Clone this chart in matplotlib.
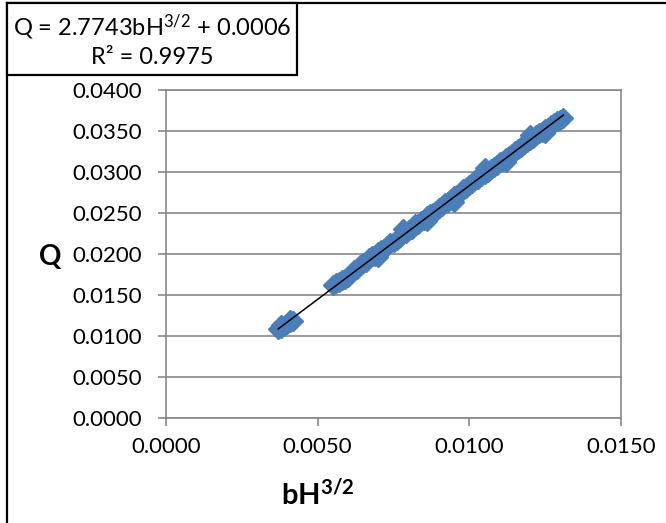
import matplotlib
matplotlib.use('Agg')
import matplotlib.pyplot as plt
from matplotlib.lines import Line2D
from matplotlib.patches import Rectangle

plt.rcParams['font.family'] = ['Lato', 'DejaVu Sans']
plt.rcParams['mathtext.fontset'] = 'custom'
plt.rcParams['mathtext.rm'] = 'Lato'
plt.rcParams['mathtext.it'] = 'Lato:italic'
plt.rcParams['mathtext.bf'] = 'Lato:bold'

# measured discharge vs b*H^(3/2)
bh32 = [
    0.0037, 0.0038, 0.0038, 0.0039, 0.0040, 0.0041, 0.0042, 0.0041,
    0.0055, 0.0056, 0.0057, 0.0058, 0.0059, 0.0060, 0.0062, 0.0063,
    0.0064, 0.0065, 0.0066, 0.0067, 0.0068, 0.0069, 0.0070, 0.0071,
    0.0072, 0.0073, 0.0074, 0.0075, 0.0076, 0.0077, 0.0078, 0.0079,
    0.0080, 0.0081, 0.0082, 0.0083, 0.0084, 0.0085, 0.0086, 0.0087,
    0.0088, 0.0089, 0.0090, 0.0091, 0.0092, 0.0093, 0.0094, 0.0095,
    0.0096, 0.0097, 0.0098, 0.0099, 0.0100, 0.0101, 0.0102, 0.0103,
    0.0104, 0.0105, 0.0106, 0.0107, 0.0108, 0.0109, 0.0110, 0.0111,
    0.0112, 0.0113, 0.0114, 0.0115, 0.0116, 0.0117, 0.0118, 0.0119,
    0.0120, 0.0121, 0.0122, 0.0123, 0.0124, 0.0125, 0.0126, 0.0127,
    0.0128, 0.0129, 0.0130, 0.0131,
    0.0086, 0.0095, 0.0105, 0.0112, 0.0120, 0.0125, 0.0070, 0.0078,
]
q = [
    0.0109, 0.0110, 0.0113, 0.0112, 0.0115, 0.0117, 0.0118, 0.0120,
    0.0162, 0.0165, 0.0166, 0.0168, 0.0170, 0.0172, 0.0180, 0.0182,
    0.0186, 0.0189, 0.0190, 0.0195, 0.0197, 0.0198, 0.0202, 0.0205,
    0.0206, 0.0210, 0.0213, 0.0215, 0.0217, 0.0221, 0.0224, 0.0226,
    0.0229, 0.0231, 0.0236, 0.0237, 0.0240, 0.0242, 0.0246, 0.0249,
    0.0250, 0.0253, 0.0256, 0.0259, 0.0262, 0.0264, 0.0267, 0.0271,
    0.0272, 0.0275, 0.0279, 0.0280, 0.0284, 0.0287, 0.0290, 0.0292,
    0.0295, 0.0297, 0.0300, 0.0304, 0.0306, 0.0309, 0.0312, 0.0314,
    0.0317, 0.0320, 0.0322, 0.0326, 0.0328, 0.0330, 0.0334, 0.0336,
    0.0339, 0.0341, 0.0345, 0.0347, 0.0349, 0.0353, 0.0354, 0.0357,
    0.0360, 0.0362, 0.0364, 0.0366,
    0.0240, 0.0264, 0.0305, 0.0312, 0.0345, 0.0348, 0.0196, 0.0230,
]

# linear trendline
slope = 2.7743
intercept = 0.0006
r2 = 0.9975
fit_x = [min(bh32), max(bh32)]
fit_y = [slope * x + intercept for x in fit_x]

x_ticks = [0.0, 0.005, 0.010, 0.015]
y_ticks = [0.0, 0.005, 0.010, 0.015, 0.020, 0.025, 0.030, 0.035, 0.040]

GRID = '#878787'
BLUE = '#4A7EBB'

fig = plt.figure(figsize=(6.66, 5.23), dpi=100)
ax = fig.add_axes([166 / 666, 105 / 523, 455 / 666, 328 / 523])

ax.plot(bh32, q, linestyle='none', marker='D', markersize=10.5,
        markerfacecolor=BLUE, markeredgecolor=BLUE, zorder=3)
ax.plot(fit_x, fit_y, color='black', lw=1.1, zorder=4)

ax.set_xlim(0, 0.015)
ax.set_ylim(0, 0.040)
ax.set_xticks(x_ticks)
ax.set_yticks(y_ticks)
ax.set_xticklabels([f'{v:.4f}' for v in x_ticks])
ax.set_yticklabels([f'{v:.4f}' for v in y_ticks])
ax.yaxis.grid(True, color=GRID, lw=1.2)
ax.set_axisbelow(True)
for s in ax.spines.values():
    s.set_color(GRID)
    s.set_linewidth(1.2)
ax.tick_params(axis='both', direction='out', length=6, width=1.2,
               color=GRID, labelsize=16, labelcolor='black')
ax.tick_params(axis='y', pad=11)
ax.tick_params(axis='x', pad=8)

fig.text(50 / 666, 1 - 257 / 523, 'Q', fontsize=20, fontweight='bold',
         ha='center', va='center')
fig.text(318 / 666, 1 - 494 / 523, r'bH$^{\mathbf{3/2}}$', fontsize=21,
         fontweight='bold', ha='center', va='center')

# chart frame (top and left edges)
fig.add_artist(Line2D([7 / 666, 1.0], [1 - 3 / 523, 1 - 3 / 523],
                      color='black', lw=1.6, transform=fig.transFigure))
fig.add_artist(Line2D([7 / 666, 7 / 666], [0, 1 - 3 / 523],
                      color='black', lw=1.6, transform=fig.transFigure))

# trendline equation box
fig.add_artist(Rectangle((7 / 666, 1 - 75 / 523), 290 / 666, 72 / 523,
                         facecolor='white', edgecolor='black', lw=1.6,
                         transform=fig.transFigure, zorder=5))
fig.text(152 / 666, 1 - 27 / 523,
         f'Q = {slope:.4f}bH$^{{3/2}}$ + {intercept:.4f}',
         fontsize=17, ha='center', va='center', zorder=6)
fig.text(152 / 666, 1 - 57 / 523, f'R² = {r2:.4f}',
         fontsize=17, ha='center', va='center', zorder=6)

fig.savefig('out.png', dpi=100)
